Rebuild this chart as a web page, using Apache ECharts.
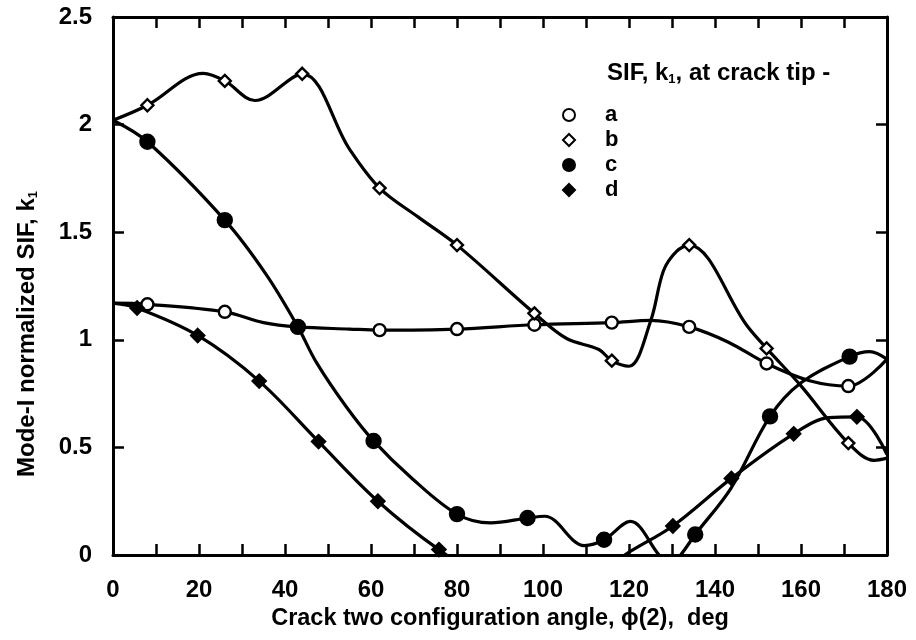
<!DOCTYPE html>
<html>
<head>
<meta charset="utf-8">
<script src="https://cdn.jsdelivr.net/npm/echarts@6.0.0/dist/echarts.min.js"></script>
<style>
html,body{margin:0;padding:0;background:#fff;}
#chart{width:916px;height:640px;}
</style>
</head>
<body>
<div id="chart"></div>
<script>
// ---- data ----
const xTicks = [0, 20, 40, 60, 80, 100, 120, 140, 160, 180];
const yTicks = [0, 0.5, 1, 1.5, 2, 2.5];

// curve traces (markers + read intermediate points)
const aCurveX = [0, 8, 26, 35, 43, 55, 62, 80, 98, 116, 125, 134, 143, 152, 162, 171, 180];
const aCurveY = [1.17, 1.165, 1.13, 1.08, 1.06, 1.05, 1.045, 1.05, 1.07, 1.08, 1.09, 1.06, 0.99, 0.89, 0.81, 0.785, 0.91];
const aMarkX = [8, 26, 43, 62, 80, 98, 116, 134, 152, 171];
const aMarkY = [1.165, 1.13, 1.06, 1.045, 1.05, 1.07, 1.08, 1.06, 0.89, 0.785];

const bCurveX = [0, 8, 21, 26, 33, 44, 55, 62, 71, 80, 98, 105.5, 113, 116, 120, 125, 128, 131, 134, 147.5, 152, 160, 171, 177, 180];
const bCurveY = [2.02, 2.09, 2.238, 2.203, 2.112, 2.236, 1.886, 1.705, 1.57, 1.44, 1.123, 1.006, 0.955, 0.903, 0.877, 1.085, 1.32, 1.41, 1.44, 1.064, 0.96, 0.786, 0.52, 0.44, 0.45];
const bMarkX = [8, 26, 44, 62, 80, 98, 116, 134, 152, 171];
const bMarkY = [2.09, 2.203, 2.236, 1.705, 1.44, 1.123, 0.903, 1.44, 0.96, 0.52];

const cCurveX = [0, 8, 26, 35.6, 43, 47.3, 54.2, 60.6, 69.3, 80, 87.8, 96.4, 100.4, 109.6, 114.2, 120.3, 127, 129.5, 132, 135.4, 143.7, 152.8, 160, 171.3, 176, 180];
const cCurveY = [2.02, 1.92, 1.556, 1.304, 1.06, 0.895, 0.69, 0.53, 0.36, 0.19, 0.149, 0.172, 0.18, 0.044, 0.071, 0.156, 0.0, -0.05, 0.0, 0.095, 0.31, 0.644, 0.80, 0.922, 0.945, 0.91];
const cMarkX = [8, 26, 43, 60.6, 80, 96.4, 114.2, 135.4, 152.8, 171.3];
const cMarkY = [1.92, 1.556, 1.06, 0.53, 0.19, 0.172, 0.071, 0.095, 0.644, 0.922];

const dCurveX = [0, 5.6, 19.7, 34, 47.8, 61.6, 75.8, 90, 105, 119, 130.2, 143.8, 158.3, 166.5, 173, 180];
const dCurveY = [1.17, 1.148, 1.02, 0.808, 0.527, 0.25, 0.025, -0.15, -0.2, 0.0, 0.135, 0.356, 0.563, 0.638, 0.642, 0.467];
const dMarkX = [5.6, 19.7, 34, 47.8, 61.6, 75.8, 130.2, 143.8, 158.3, 173];
const dMarkY = [1.148, 1.02, 0.808, 0.527, 0.25, 0.025, 0.135, 0.356, 0.563, 0.642];

const seriesNames = ['a', 'b', 'c', 'd'];
const legendTitle = 'SIF, k{s|1}, at crack tip -';
const xName = 'Crack two configuration angle, \u03d5(2),  deg';
const yName = 'Mode-I normalized SIF, k{s|1}';

// ---- build chart ----
const zip = (xs, ys) => xs.map((x, i) => [x, ys[i]]);
const FONT = '"Liberation Sans", Arial, sans-serif';
const BLK = '#000';

const curves = {
  a: zip(aCurveX, aCurveY), b: zip(bCurveX, bCurveY),
  c: zip(cCurveX, cCurveY), d: zip(dCurveX, dCurveY)
};
const marks = {
  a: zip(aMarkX, aMarkY), b: zip(bMarkX, bMarkY),
  c: zip(cMarkX, cMarkY), d: zip(dMarkX, dMarkY)
};
const markStyle = {
  a: { symbol: 'circle', size: 12, fill: '#fff' },
  b: { symbol: 'diamond', size: 12, fill: '#fff' },
  c: { symbol: 'circle', size: 14, fill: BLK },
  d: { symbol: 'diamond', size: 13, fill: BLK }
};

const series = [];
seriesNames.forEach(k => {
  series.push({
    name: k + '-curve', type: 'line', data: curves[k], smooth: 0.35,
    symbol: 'none', clip: true, silent: true,
    lineStyle: { color: BLK, width: 3.2 }, z: 2
  });
});
seriesNames.forEach(k => {
  const s = markStyle[k];
  series.push({
    name: k, type: 'scatter', data: marks[k], symbol: s.symbol, symbolSize: s.size,
    clip: true,
    itemStyle: { color: s.fill, borderColor: BLK, borderWidth: 2.4, opacity: 1 }, z: 3
  });
});

const axisCommon = {
  axisLine: { show: true, onZero: false, lineStyle: { color: BLK, width: 3 } },
  axisTick: { show: true, inside: true, length: 11, lineStyle: { color: BLK, width: 2.5 } },
  splitLine: { show: false }
};

const chart = echarts.init(document.getElementById('chart'), null, { renderer: 'canvas' });
chart.setOption({
  backgroundColor: '#fff',
  animation: false,
  textStyle: { fontFamily: FONT },
  grid: { left: 113, right: 29, top: 17, bottom: 85 },
  title: {
    text: legendTitle, left: 602, top: 55,
    textStyle: {
      fontFamily: FONT, fontSize: 24, fontWeight: 'bold', color: BLK,
      rich: { s: { fontSize: 13, fontWeight: 'bold', padding: [13, 0, 0, 0], fontFamily: FONT } }
    }
  },
  legend: {
    data: seriesNames, orient: 'vertical', left: 557, top: 99,
    itemWidth: 12, itemHeight: 12, itemGap: 3,
    textStyle: { fontFamily: FONT, fontSize: 22, fontWeight: 'bold', color: BLK, padding: [0, 0, 0, 25] },
    selectedMode: false
  },
  xAxis: [
    Object.assign({
      type: 'value', min: 0, max: 180, interval: 10, position: 'bottom',
      name: xName, nameLocation: 'middle', nameGap: 52,
      nameTextStyle: { fontFamily: FONT, fontSize: 23.5, fontWeight: 'bold', color: BLK },
      axisLabel: {
        show: true, margin: 23, fontFamily: FONT, fontSize: 24, fontWeight: 'bold', color: BLK,
        formatter: v => (xTicks.indexOf(v) >= 0 ? String(v) : '')
      }
    }, axisCommon),
    Object.assign({
      type: 'value', min: 0, max: 180, interval: 10, position: 'top',
      axisLabel: { show: false }
    }, axisCommon)
  ],
  yAxis: [
    Object.assign({
      type: 'value', min: 0, max: 2.5, interval: 0.5, position: 'left',
      axisLabel: {
        show: true, margin: 21, fontFamily: FONT, fontSize: 24, fontWeight: 'bold', color: BLK,
        formatter: v => (yTicks.indexOf(v) >= 0 ? String(v) : '')
      }
    }, axisCommon),
    Object.assign({
      type: 'value', min: 0, max: 2.5, interval: 0.5, position: 'right',
      axisLabel: { show: false }
    }, axisCommon)
  ],
  graphic: [{
    type: 'text', x: 27, y: 334, rotation: Math.PI / 2,
    style: {
      text: yName, fill: BLK, align: 'center', verticalAlign: 'middle',
      font: 'bold 24px ' + FONT,
      rich: { s: { fontSize: 13, fontWeight: 'bold', fontFamily: FONT, padding: [13, 0, 0, 0] } }
    }
  }],
  series: series
});
</script>
</body>
</html>
